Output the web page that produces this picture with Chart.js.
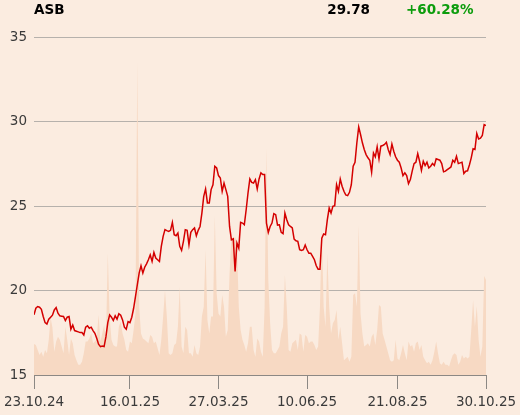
<!DOCTYPE html>
<html>
<head>
<meta charset="utf-8">
<script src="https://cdn.jsdelivr.net/npm/chart.js@4/dist/chart.umd.min.js"></script>
<style>
  body { margin: 0; background: #fbece0; }
  canvas { display: block; }
</style>
</head>
<body>
<canvas id="chart" width="520" height="415"></canvas>
<script>
// ASB closing prices, one per trading day (23.10.24 -> 30.10.25)
const prices = [
    18.56, 18.95, 19.05, 19.01, 18.89, 18.46, 18.10, 18.02, 18.30, 18.42,
    18.54, 18.85, 18.99, 18.66, 18.50, 18.48, 18.46, 18.22, 18.42, 18.46,
    17.71, 17.96, 17.63, 17.59, 17.55, 17.51, 17.51, 17.37, 17.83, 17.91,
    17.77, 17.83, 17.63, 17.47, 17.17, 16.82, 16.68, 16.72, 16.68, 17.27,
    18.10, 18.56, 18.42, 18.22, 18.50, 18.30, 18.62, 18.54, 18.26, 17.83,
    17.71, 18.16, 18.10, 18.42, 18.95, 19.64, 20.34, 21.03, 21.46, 21.03,
    21.38, 21.58, 21.82, 22.11, 21.72, 22.25, 21.92, 21.82, 21.72, 22.61,
    23.20, 23.60, 23.54, 23.50, 23.56, 24.03, 23.30, 23.24, 23.40, 22.61,
    22.37, 22.91, 23.60, 23.56, 22.71, 23.44, 23.60, 23.70, 23.24, 23.56,
    23.79, 24.58, 25.57, 26.01, 25.18, 25.18, 25.97, 26.26, 27.35, 27.25,
    26.80, 26.66, 25.87, 26.36, 25.97, 25.57, 23.79, 23.00, 23.06, 21.13,
    22.81, 22.51, 24.03, 23.99, 23.89, 24.78, 25.77, 26.60, 26.40, 26.36,
    26.56, 26.01, 26.60, 26.96, 26.86, 26.86, 23.99, 23.44, 23.79, 23.99,
    24.55, 24.49, 23.87, 23.89, 23.44, 23.36, 24.58, 24.19, 23.89, 23.79,
    23.70, 23.04, 22.94, 22.91, 22.41, 22.37, 22.41, 22.69, 22.41, 22.21,
    22.21, 22.02, 21.82, 21.46, 21.26, 21.26, 23.10, 23.34, 23.30, 24.19,
    24.88, 24.58, 24.98, 25.02, 26.26, 25.87, 26.60, 26.17, 25.87, 25.65,
    25.61, 25.81, 26.26, 27.35, 27.59, 28.74, 29.68, 29.23, 28.74, 28.34,
    28.04, 27.85, 27.71, 27.00, 28.14, 27.91, 28.50, 27.79, 28.54, 28.58,
    28.64, 28.77, 28.34, 28.04, 28.66, 28.24, 27.91, 27.71, 27.59, 27.25,
    26.80, 26.96, 26.80, 26.32, 26.56, 27.06, 27.51, 27.59, 28.10, 27.65,
    27.11, 27.65, 27.39, 27.59, 27.25, 27.35, 27.51, 27.39, 27.79, 27.75,
    27.71, 27.51, 27.02, 27.06, 27.15, 27.23, 27.31, 27.71, 27.59, 27.94,
    27.51, 27.55, 27.59, 26.92, 27.06, 27.08, 27.43, 27.85, 28.38, 28.34,
    29.29, 28.97, 29.01, 29.17, 29.82, 29.76
];

// traded volume, same days (relative units, axis 0..100)
const volumes = [
    9.2, 8.9, 7.4, 5.9, 6.9, 5.4, 7.4, 6.4, 10.4, 17.0,
    14.0, 6.9, 9.9, 11.3, 10.4, 8.4, 6.4, 14.3, 10.4, 5.9,
    10.8, 9.4, 5.9, 4.4, 3.0, 3.0, 3.9, 6.4, 9.9, 9.9,
    10.8, 12.3, 9.4, 9.9, 10.4, 17.8, 9.9, 12.3, 14.8, 10.4,
    36.0, 17.3, 10.4, 8.9, 8.4, 8.4, 14.3, 15.8, 12.3, 10.4,
    7.4, 6.9, 9.9, 9.4, 13.3, 18.2, 92.7, 20.2, 12.3, 10.8,
    10.4, 9.9, 9.4, 11.8, 11.3, 9.4, 9.9, 7.9, 5.9, 10.4,
    17.3, 25.1, 17.3, 6.4, 5.9, 6.4, 8.9, 9.4, 14.3, 26.1,
    8.4, 6.4, 14.3, 13.3, 6.4, 6.4, 5.4, 8.9, 6.4, 5.9,
    8.4, 17.3, 20.2, 37.0, 16.3, 12.3, 17.3, 17.3, 47.3, 24.2,
    18.2, 17.3, 23.7, 20.2, 11.3, 13.3, 30.1, 40.9, 39.9, 40.9,
    39.0, 20.2, 13.3, 10.4, 8.9, 6.9, 9.4, 14.3, 14.3, 7.4,
    5.4, 10.8, 9.9, 6.9, 5.4, 20.2, 67.1, 28.1, 15.3, 7.4,
    6.4, 6.4, 7.4, 8.4, 12.3, 14.3, 29.6, 20.2, 7.4, 6.9,
    9.4, 9.9, 10.4, 7.4, 12.3, 11.8, 6.9, 11.8, 11.3, 9.4,
    9.9, 9.9, 8.9, 7.4, 8.4, 20.2, 43.4, 20.2, 14.3, 36.0,
    20.2, 12.3, 15.3, 16.3, 19.2, 10.4, 14.3, 9.4, 4.4, 4.9,
    5.4, 3.9, 5.4, 23.7, 24.2, 20.2, 44.4, 18.2, 12.3, 8.4,
    8.9, 9.4, 8.4, 11.3, 12.3, 8.9, 13.3, 20.7, 20.2, 12.3,
    10.4, 8.4, 6.4, 4.4, 3.9, 4.4, 10.4, 4.9, 4.4, 6.4,
    8.9, 6.4, 4.4, 9.9, 8.4, 8.9, 6.9, 9.4, 9.9, 7.4,
    8.9, 5.4, 4.4, 3.5, 3.9, 3.0, 4.4, 6.9, 9.9, 6.4,
    3.5, 3.0, 3.9, 3.0, 3.0, 2.5, 4.4, 5.9, 6.4, 5.9,
    3.0, 3.9, 5.9, 4.9, 5.4, 4.9, 5.4, 13.3, 22.2, 14.3,
    20.4, 10.4, 5.4, 8.4, 29.3, 28.1
];

// x-axis labels and the trading-day index they sit on
const dateLabels = ['23.10.24', '16.01.25', '27.03.25', '10.06.25', '21.08.25', '30.10.25'];
const dateIdx = [0, 52, 100, 148, 197, 245];

const yTicks = [15, 20, 25, 30, 35];

const header = { name: 'ASB', last: '29.78', change: '+60.28%' };

const headerPlugin = {
    id: 'header',
    afterDraw(chart) {
        const ctx = chart.ctx;
        ctx.save();
        ctx.font = 'bold 13.5px "DejaVu Sans"';
        ctx.textBaseline = 'alphabetic';
        ctx.fillStyle = '#000';
        ctx.textAlign = 'left';
        ctx.fillText(header.name, 34, 14);
        ctx.textAlign = 'right';
        ctx.fillText(header.last, 370, 14);
        ctx.textAlign = 'left';
        ctx.fillStyle = '#0c9c0c';
        ctx.fillText(header.change, 406, 14);
        ctx.restore();
    }
};

const font = { family: '"DejaVu Sans"', size: 13.5 };

new Chart(document.getElementById('chart'), {
    type: 'line',
    data: {
        datasets: [{
            label: 'Price',
            data: prices.map((v, i) => ({ x: i, y: v })),
            borderColor: '#d40000',
            borderWidth: 1.5,
            pointRadius: 0,
            tension: 0,
            yAxisID: 'y',
            order: 1
        }, {
            label: 'Volume',
            data: volumes.map((v, i) => ({ x: i, y: v })),
            borderWidth: 0,
            backgroundColor: '#f7d9c3',
            fill: 'start',
            pointRadius: 0,
            tension: 0,
            yAxisID: 'yv',
            order: 2
        }]
    },
    options: {
        responsive: false,
        animation: false,
        devicePixelRatio: 1,
        layout: { padding: { left: 0, right: 34, top: 37, bottom: 0 } },
        plugins: {
            legend: { display: false },
            tooltip: { enabled: false }
        },
        scales: {
            x: {
                type: 'linear',
                min: 0,
                max: dateIdx[dateIdx.length - 1],
                afterBuildTicks: (scale) => {
                    scale.ticks = dateIdx.map(v => ({ value: v }));
                },
                afterFit: (scale) => {
                    scale.height = 40;
                    // labels may overhang the plot, the padding already leaves room
                    scale.paddingLeft = 0;
                    scale.paddingRight = 0;
                },
                ticks: {
                    autoSkip: false,
                    maxRotation: 0,
                    padding: 5,
                    color: '#3a3a3a',
                    font: font,
                    callback: (v) => dateLabels[dateIdx.indexOf(v)]
                },
                grid: {
                    drawOnChartArea: false,
                    drawTicks: true,
                    tickLength: 14,
                    color: '#8c8884'
                },
                border: { color: '#8c8884', width: 1 }
            },
            y: {
                min: 15,
                max: 35,
                afterBuildTicks: (scale) => {
                    scale.ticks = yTicks.map(v => ({ value: v }));
                },
                afterFit: (scale) => { scale.width = 34; },
                ticks: {
                    padding: 7,
                    color: '#3a3a3a',
                    font: font
                },
                grid: {
                    color: '#b6b1ac',
                    drawTicks: false
                },
                border: { display: false }
            },
            yv: {
                display: false,
                min: 0,
                max: 100
            }
        }
    },
    plugins: [headerPlugin]
});
</script>
</body>
</html>
